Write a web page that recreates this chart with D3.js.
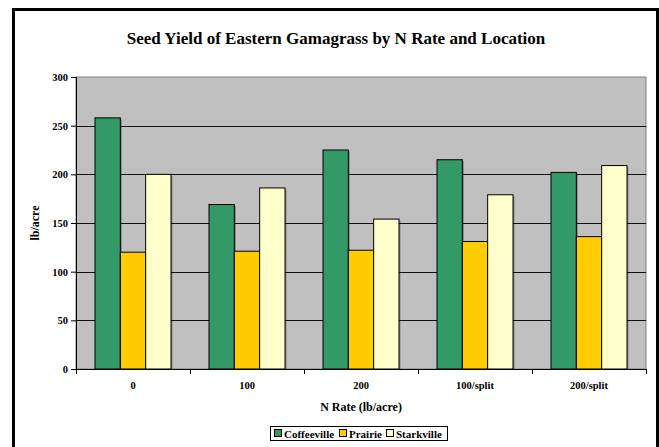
<!DOCTYPE html>
<html><head><meta charset="utf-8">
<script src="https://cdn.jsdelivr.net/npm/d3@7"></script>
<style>body{margin:0;background:#fff}svg{display:block}svg text{font-family:"Liberation Serif","Times New Roman","DejaVu Serif",serif !important;font-weight:bold;fill:#000}</style>
</head><body><svg id="c" width="659" height="447" font-family="Liberation Serif, serif"></svg>
<script>
const categories = ["0", "100", "200", "100/split", "200/split"];
const seriesNames = ["Coffeeville", "Prairie", "Starkville"];
const coffeeville = [258, 169, 225, 215, 202];
const prairie = [120, 121, 122, 131, 136];
const starkville = [200, 186, 154, 179, 209];
const yTicks = [0, 50, 100, 150, 200, 250, 300];
const colors = ["#339966", "#FFCC00", "#FFFFCC"];

const values = [coffeeville, prairie, starkville];
const svg = d3.select("#c");
const L = 76, R = 646, T = 77, B = 369;

svg.append("rect").attr("x", 13.5).attr("y", 9.5).attr("width", 644).attr("height", 450)
  .attr("fill", "#fff").attr("stroke", "#000").attr("stroke-width", 3);

const x = d3.scaleBand().domain(categories).range([L, R]).paddingInner(0).paddingOuter(0);
const y = d3.scaleLinear().domain([0, 300]).range([B, T]);
const xs = d3.scaleBand().domain(seriesNames).range([0, x.bandwidth()]).paddingInner(0).paddingOuter(0.75);

svg.append("rect").attr("x", L).attr("y", T).attr("width", R - L).attr("height", B - T)
  .attr("fill", "#C0C0C0").attr("stroke", "#808080").attr("stroke-width", 1);

svg.append("g").selectAll("line").data(yTicks.filter(d => d > 0 && d < 300)).join("line")
  .attr("x1", L).attr("x2", R).attr("y1", d => Math.round(y(d)) + 0.5).attr("y2", d => Math.round(y(d)) + 0.5)
  .attr("stroke", "#111").attr("stroke-width", 1);

const groups = svg.append("g").selectAll("g").data(seriesNames).join("g");
groups.selectAll("rect.s").data((s, i) => categories.map((c, j) => ({c, s, v: values[i][j]}))).join("rect")
  .attr("class", "s")
  .attr("x", d => x(d.c) + xs(d.s) + 1.5).attr("y", d => y(d.v) + 1.5)
  .attr("width", xs.bandwidth()).attr("height", d => B - y(d.v) - 1.5)
  .attr("fill", "#000").attr("opacity", 0.3);
groups.selectAll("rect.b").data((s, i) => categories.map((c, j) => ({c, s, v: values[i][j], i}))).join("rect")
  .attr("class", "b")
  .attr("x", d => x(d.c) + xs(d.s)).attr("y", d => y(d.v))
  .attr("width", xs.bandwidth()).attr("height", d => B - y(d.v))
  .attr("fill", d => colors[d.i]).attr("stroke", "#000").attr("stroke-width", 1);

const ya = svg.append("g").attr("transform", `translate(${L},0)`)
  .call(d3.axisLeft(y).tickValues(yTicks).tickSize(5).tickPadding(3));
ya.attr("font-family", null);
ya.select(".domain").attr("stroke", "#000");
ya.selectAll("text").style("font-size", "10.5px");

const xa = svg.append("g").attr("transform", `translate(0,${B})`)
  .call(d3.axisBottom(x).tickSize(0).tickPadding(13));
xa.attr("font-family", null);
xa.select(".domain").attr("stroke", "#000");
xa.selectAll("text").style("font-size", "10.5px");
svg.append("g").selectAll("line").data(categories.map(c => x(c)).concat([R])).join("line")
  .attr("x1", d => Math.round(d) + 0.5).attr("x2", d => Math.round(d) + 0.5)
  .attr("y1", B).attr("y2", B + 5).attr("stroke", "#000");

svg.append("text").attr("x", 336).attr("y", 44).attr("text-anchor", "middle")
  .style("font-size", "17px").text("Seed Yield of Eastern Gamagrass by N Rate and Location");
svg.append("text").attr("transform", `translate(39,223) rotate(-90)`).attr("text-anchor", "middle")
  .style("font-size", "12px").text("lb/acre");
svg.append("text").attr("x", 361).attr("y", 411).attr("text-anchor", "middle")
  .style("font-size", "12px").text("N Rate (lb/acre)");

const lg = svg.append("g");
lg.append("rect").attr("x", 270.5).attr("y", 426.5).attr("width", 177).attr("height", 14)
  .attr("fill", "#fff").attr("stroke", "#000");
const lx = [274, 339, 386];
seriesNames.forEach((s, i) => {
  lg.append("rect").attr("x", lx[i] + 0.5).attr("y", 429.5).attr("width", 7).attr("height", 7)
    .attr("fill", colors[i]).attr("stroke", "#000");
  lg.append("text").attr("x", lx[i] + 10).attr("y", 437.5).style("font-size", "11px").text(s);
});
</script></body></html>
